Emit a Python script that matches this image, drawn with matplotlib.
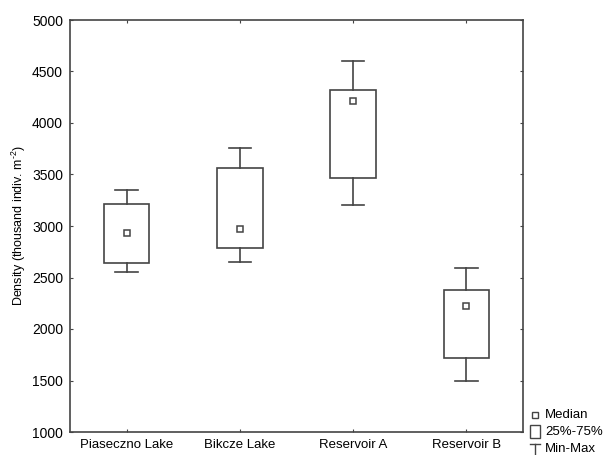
import matplotlib.pyplot as plt
from matplotlib.patches import Rectangle
from matplotlib.lines import Line2D

plt.rcParams['font.family'] = ['Liberation Sans', 'DejaVu Sans']
plt.rcParams['mathtext.fontset'] = 'custom'
plt.rcParams['mathtext.rm'] = 'Liberation Sans'

sites = ['Piaseczno Lake', 'Bikcze Lake', 'Reservoir A', 'Reservoir B']
mins = [2555, 2650, 3205, 1495]
q1 = [2640, 2790, 3465, 1720]
medians = [2930, 2975, 4210, 2225]
q3 = [3212, 3562, 4318, 2375]
maxs = [3350, 3757, 4600, 2597]

col = '#444444'
fig = plt.figure(figsize=(6.04, 4.55), dpi=100)
ax = fig.add_axes([70 / 604, 1 - 432 / 455, 453 / 604, 412 / 455])

bw = 0.4
cw = 0.2
for i in range(len(sites)):
    ax.add_patch(Rectangle((i - bw / 2, q1[i]), bw, q3[i] - q1[i],
                           fill=False, edgecolor=col, lw=1.2))
    ax.plot([i, i], [q3[i], maxs[i]], color=col, lw=1.2)
    ax.plot([i, i], [mins[i], q1[i]], color=col, lw=1.2)
    ax.plot([i - cw / 2, i + cw / 2], [maxs[i], maxs[i]], color=col, lw=1.2)
    ax.plot([i - cw / 2, i + cw / 2], [mins[i], mins[i]], color=col, lw=1.2)
    ax.plot(i, medians[i], 's', ms=4.5, mfc='white', mec=col, mew=1.1)

ax.set_xlim(-0.5, 3.5)
ax.set_ylim(1000, 5000)
ax.set_xticks(range(len(sites)))
ax.set_xticklabels(sites, fontsize=9.5)
ax.set_yticks(range(1000, 5001, 500))
ax.tick_params(axis='both', direction='in', length=2.5, color=col,
               top=True, right=True, labelsize=10, pad=5)
ax.tick_params(axis='x', labelsize=9.5)
for s in ax.spines.values():
    s.set_color(col)
    s.set_linewidth(1.2)
ax.set_ylabel(r'Density (thousand indiv. m$^{\mathrm{\text{-2}}}$)', fontsize=9,
              labelpad=3)

# legend outside lower right
lx = 535 / 604
fig.add_artist(Line2D([lx], [1 - 415 / 455], marker='s', ms=4, mfc='white',
                      mec=col, mew=1.0, transform=fig.transFigure))
fig.add_artist(Rectangle((530 / 604, 1 - 438 / 455), 10 / 604, 13 / 455,
                         fill=False, edgecolor=col, lw=1.0,
                         transform=fig.transFigure))
fig.add_artist(Line2D([lx, lx], [1 - 444 / 455, 1 - 455 / 455], color=col,
                      lw=1.0, transform=fig.transFigure))
fig.add_artist(Line2D([530 / 604, 540 / 604], [1 - 444 / 455, 1 - 444 / 455],
                      color=col, lw=1.0, transform=fig.transFigure))
tx = 545 / 604
fig.text(tx, 1 - 415 / 455, 'Median', fontsize=9.5, va='center')
fig.text(tx, 1 - 432 / 455, '25%-75%', fontsize=9.5, va='center')
fig.text(tx, 1 - 449 / 455, 'Min-Max', fontsize=9.5, va='center')

fig.savefig('out.png', dpi=100)
